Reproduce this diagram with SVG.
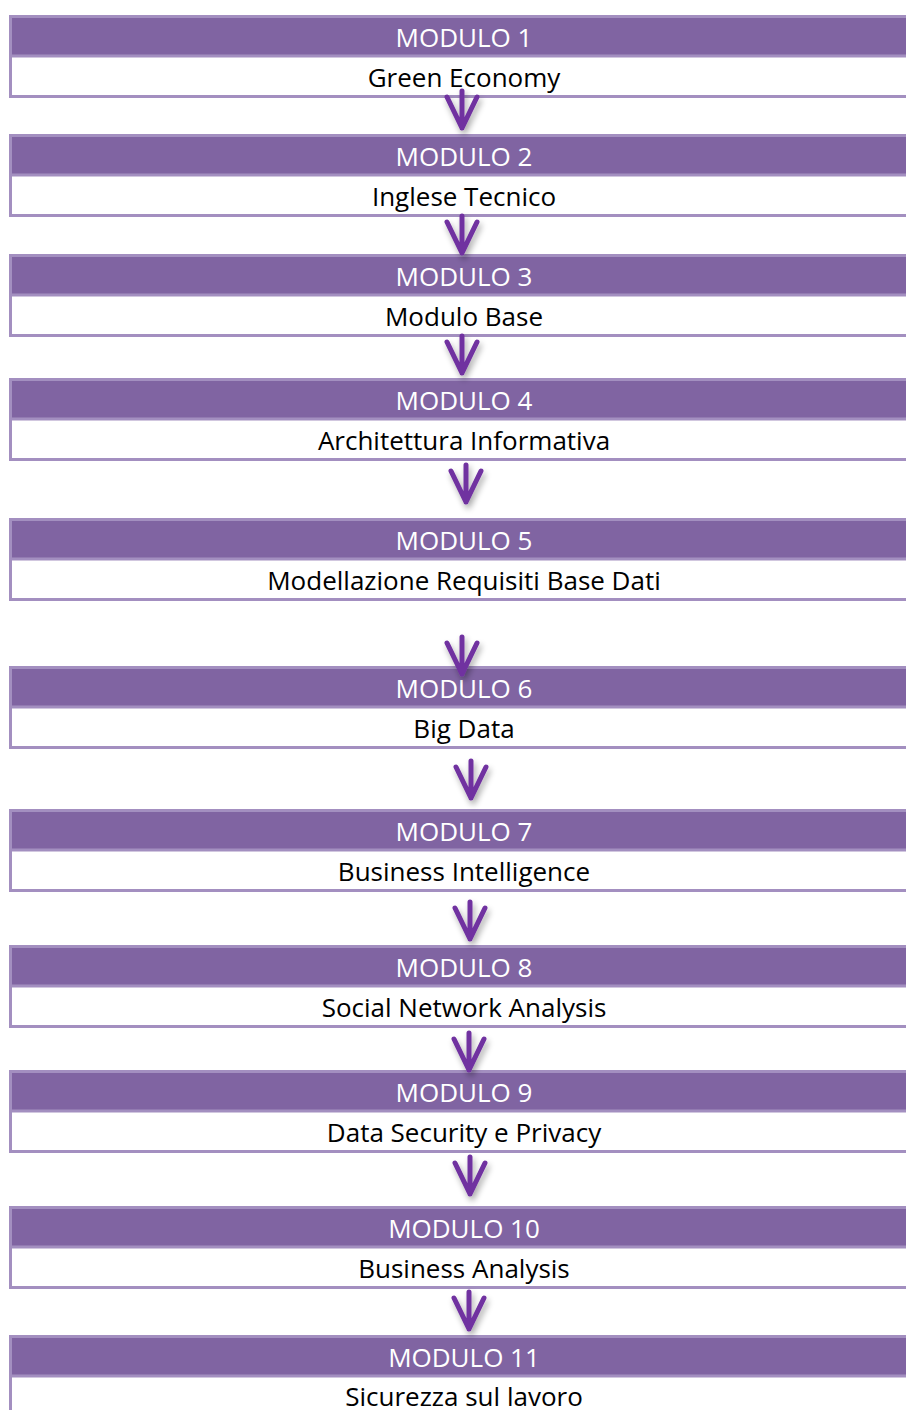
<svg xmlns="http://www.w3.org/2000/svg" width="906" height="1410" viewBox="0 0 906 1410">
<style>
.frame{fill:#ffffff;stroke:#A38FC0;stroke-width:3}
.head{fill:#8064A2}
.div{stroke:#A38FC0;stroke-width:3}
.ht{font-family:"Open Sans","Noto Sans",sans-serif;font-size:26px;fill:#ffffff;text-anchor:middle}
.ct{font-family:"Open Sans","Noto Sans",sans-serif;font-size:26px;fill:#000000;text-anchor:middle}
.arrow{fill:none;stroke:#7030A0;stroke-width:5;stroke-linecap:round;stroke-linejoin:round}
</style>
<defs>
<filter id="sh" x="-50%" y="-50%" width="200%" height="200%">
<feGaussianBlur in="SourceAlpha" stdDeviation="3"/>
<feOffset dx="2" dy="4" result="b"/>
<feComponentTransfer><feFuncA type="linear" slope="0.35"/></feComponentTransfer>
<feMerge><feMergeNode/><feMergeNode in="SourceGraphic"/></feMerge>
</filter>
<g id="box">
<rect class="frame" x="10.5" y="1.5" width="912" height="80"/>
<rect class="head" x="12" y="3" width="910" height="37"/>
<line class="div" x1="12" y1="41" x2="922" y2="41"/>
</g>
</defs>
<g id="m1"><use href="#box" y="15"/><text class="ht" x="464" y="47">MODULO 1</text><text class="ct" x="464" y="87">Green Economy</text></g>
<g id="m2"><use href="#box" y="134"/><text class="ht" x="464" y="166">MODULO 2</text><text class="ct" x="464" y="206">Inglese Tecnico</text></g>
<g id="m3"><use href="#box" y="254"/><text class="ht" x="464" y="286">MODULO 3</text><text class="ct" x="464" y="326">Modulo Base</text></g>
<g id="m4"><use href="#box" y="378"/><text class="ht" x="464" y="410">MODULO 4</text><text class="ct" x="464" y="450">Architettura Informativa</text></g>
<g id="m5"><use href="#box" y="518"/><text class="ht" x="464" y="550">MODULO 5</text><text class="ct" x="464" y="590">Modellazione Requisiti Base Dati</text></g>
<g id="m6"><use href="#box" y="666"/><text class="ht" x="464" y="698">MODULO 6</text><text class="ct" x="464" y="738">Big Data</text></g>
<g id="m7"><use href="#box" y="809"/><text class="ht" x="464" y="841">MODULO 7</text><text class="ct" x="464" y="881">Business Intelligence</text></g>
<g id="m8"><use href="#box" y="945"/><text class="ht" x="464" y="977">MODULO 8</text><text class="ct" x="464" y="1017">Social Network Analysis</text></g>
<g id="m9"><use href="#box" y="1070"/><text class="ht" x="464" y="1102">MODULO 9</text><text class="ct" x="464" y="1142">Data Security e Privacy</text></g>
<g id="m10"><use href="#box" y="1206"/><text class="ht" x="464" y="1238">MODULO 10</text><text class="ct" x="464" y="1278">Business Analysis</text></g>
<g id="m11"><use href="#box" y="1335"/><text class="ht" x="464" y="1367">MODULO 11</text><text class="ct" x="464" y="1406">Sicurezza sul lavoro</text></g>
<g id="connectors" class="arrow" filter="url(#sh)">
<path d="M462,91 V128 M447,97 L462,128 L477,97"/>
<path d="M462,216 V253 M447,222 L462,253 L477,222"/>
<path d="M462,336 V373 M447,342 L462,373 L477,342"/>
<path d="M466,465 V502 M451,471 L466,502 L481,471"/>
<path d="M462,637 V674 M447,643 L462,674 L477,643"/>
<path d="M471,761 V798 M456,767 L471,798 L486,767"/>
<path d="M470,902 V939 M455,908 L470,939 L485,908"/>
<path d="M469,1033 V1070 M454,1039 L469,1070 L484,1039"/>
<path d="M470,1157 V1194 M455,1163 L470,1194 L485,1163"/>
<path d="M469,1292 V1329 M454,1298 L469,1329 L484,1298"/>
</g>
</svg>
